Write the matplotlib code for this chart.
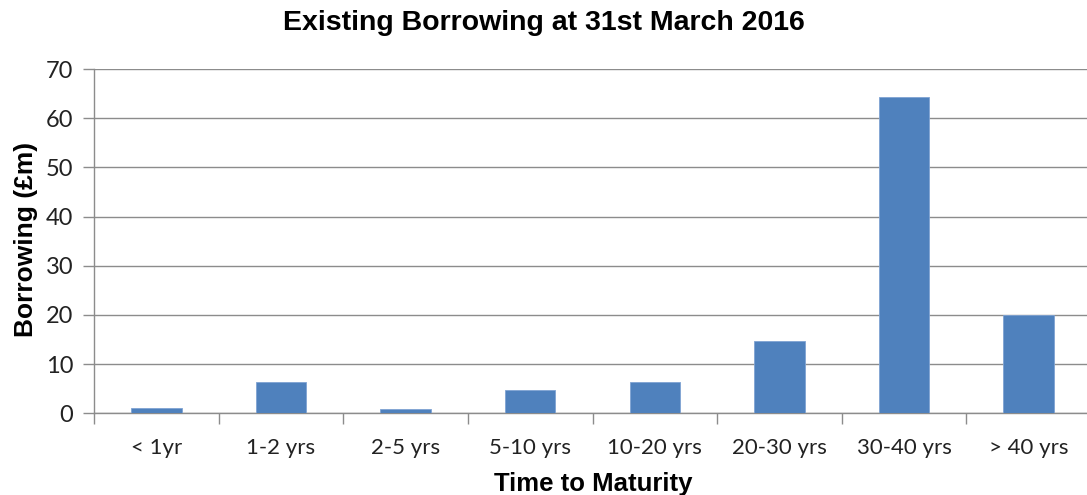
import numpy as np
import matplotlib.pyplot as plt

# Existing borrowing by time to maturity (GBP millions)
categories = ['< 1yr', '1-2 yrs', '2-5 yrs', '5-10 yrs', '10-20 yrs',
              '20-30 yrs', '30-40 yrs', '> 40 yrs']
borrowing = [1.0, 6.4, 0.8, 4.7, 6.4, 14.8, 64.3, 19.9]

fig = plt.figure(figsize=(10.87, 4.95), dpi=100)
ax = fig.add_axes([94 / 1087, 1 - 413.3 / 495, 997 / 1087, 344.3 / 495])

x = np.arange(len(categories))
ax.bar(x, borrowing, width=0.406, color='#4F81BD', edgecolor='#7FA3D3',
       linewidth=0.6, zorder=3)

ax.set_xlim(-0.5, len(categories) - 0.5)
ax.set_ylim(0, 70)
ax.set_yticks(range(0, 71, 10))
ax.set_xticks(x)
ax.set_xticklabels(categories)
ax.set_xticks(np.arange(len(categories) + 1) - 0.5, minor=True)

ax.grid(axis='y', color='#8C8C8C', linewidth=1.0, zorder=0)
for side in ['top', 'right']:
    ax.spines[side].set_visible(False)
for side in ['left', 'bottom']:
    ax.spines[side].set_color('#8C8C8C')
    ax.spines[side].set_linewidth(1.0)

tick_font = 'Lato'
ax.tick_params(axis='y', length=8, color='#8C8C8C', width=1.0, pad=7,
               labelsize=17)
ax.tick_params(axis='x', which='major', length=0, pad=18, labelsize=16)
ax.tick_params(axis='x', which='minor', length=8, color='#8C8C8C', width=1.0)
for lbl in ax.get_xticklabels() + ax.get_yticklabels():
    lbl.set_fontfamily(tick_font)
    lbl.set_color('#222222')

fig.text(0.5, 1 - 23 / 495, 'Existing Borrowing at 31st March 2016',
         ha='center', va='center', fontsize=20.5, fontweight='bold',
         family='Liberation Sans')
fig.text(26 / 1087, 1 - 239 / 495, 'Borrowing (£m)', rotation=90,
         ha='center', va='center', fontsize=19, fontweight='bold',
         family='Liberation Sans')
fig.text(593 / 1087, 1 - 484 / 495, 'Time to Maturity',
         ha='center', va='center', fontsize=18.5, fontweight='bold',
         family='Liberation Sans')

fig.savefig('out.png', dpi=100)
